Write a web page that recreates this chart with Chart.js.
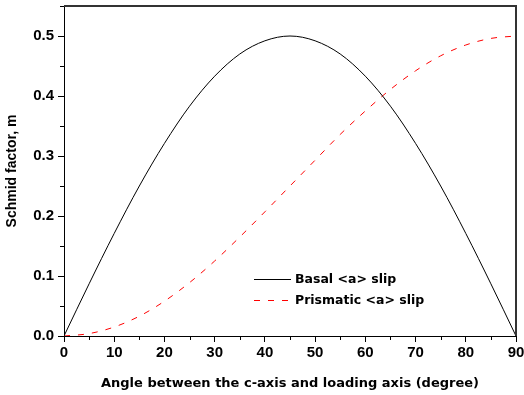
<!DOCTYPE html>
<html>
<head>
<meta charset="utf-8">
<script src="https://cdn.jsdelivr.net/npm/chart.js@4"></script>
<style>
  body { margin: 0; background: #fff; }
  #wrap { width: 524px; height: 395px; }
</style>
</head>
<body>
<div id="wrap"><canvas id="schmid" width="524" height="395"></canvas></div>
<script>
// angulo entre eje c y eje de carga (grados)
const angulos = [0, 5, 10, 15, 20, 25, 30, 35, 40, 45, 50, 55, 60, 65, 70, 75, 80, 85, 90];
// factor de Schmid, deslizamiento basal <a>
const basal = [0, 0.087, 0.171, 0.25, 0.321, 0.383, 0.433, 0.47, 0.492, 0.5, 0.492, 0.47, 0.433, 0.383, 0.321, 0.25, 0.171, 0.087, 0];
// factor de Schmid, deslizamiento prismatico <a>
const prismatico = [0, 0.004, 0.015, 0.033, 0.058, 0.089, 0.125, 0.165, 0.207, 0.25, 0.293, 0.336, 0.375, 0.411, 0.442, 0.467, 0.485, 0.496, 0.5];
const ticksX = [0, 10, 20, 30, 40, 50, 60, 70, 80, 90];
const ticksY = [0.0, 0.1, 0.2, 0.3, 0.4, 0.5];

const fuente = "'Liberation Sans', Arial, sans-serif";
const fuenteAncha = "'DejaVu Sans', Verdana, sans-serif";

// marco superior/derecho, ticks menores y leyenda dentro del grafico
const extras = {
  id: 'extras',
  afterDraw(chart) {
    const ctx = chart.ctx;
    const a = chart.chartArea;
    const sx = chart.scales.x, sy = chart.scales.y;
    ctx.save();
    ctx.strokeStyle = '#333';
    ctx.lineWidth = 2;
    ctx.beginPath();
    ctx.moveTo(a.left, a.top);
    ctx.lineTo(a.right, a.top);
    ctx.lineTo(a.right, a.bottom);
    ctx.stroke();

    ctx.lineWidth = 1;
    ctx.strokeStyle = '#000';
    ctx.beginPath();
    for (let v = 5; v < 90; v += 10) {
      const px = Math.round(sx.getPixelForValue(v)) + 0.5;
      ctx.moveTo(px, a.bottom);
      ctx.lineTo(px, a.bottom + 4);
    }
    for (let v = 0.05; v < 0.55; v += 0.1) {
      const py = Math.round(sy.getPixelForValue(v)) + 0.5;
      ctx.moveTo(a.left, py);
      ctx.lineTo(a.left - 4, py);
    }
    ctx.stroke();

    // leyenda
    const lx = a.left + 190, ly = a.top + 273;
    ctx.font = 'bold 12.5px ' + fuenteAncha;
    ctx.textBaseline = 'middle';
    ctx.fillStyle = '#000';
    chart.data.datasets.forEach((ds, i) => {
      const y = ly + i * 21 + 0.5;
      ctx.strokeStyle = ds.borderColor;
      ctx.setLineDash(ds.borderDash || []);
      ctx.beginPath();
      ctx.moveTo(lx, y);
      ctx.lineTo(lx + 37, y);
      ctx.stroke();
      ctx.setLineDash([]);
      ctx.fillText(ds.label, lx + 41, y);
    });
    ctx.restore();
  }
};

new Chart(document.getElementById('schmid'), {
  type: 'line',
  data: {
    datasets: [
      {
        label: 'Basal <a> slip',
        data: angulos.map((x, i) => ({ x: x, y: basal[i] })),
        borderColor: '#000',
        borderWidth: 1,
        pointRadius: 0,
        cubicInterpolationMode: 'monotone'
      },
      {
        label: 'Prismatic <a> slip',
        data: angulos.map((x, i) => ({ x: x, y: prismatico[i] })),
        borderColor: '#ff0000',
        borderWidth: 1,
        borderDash: [6, 8],
        pointRadius: 0,
        cubicInterpolationMode: 'monotone'
      }
    ]
  },
  options: {
    responsive: false,
    devicePixelRatio: 1,
    animation: false,
    layout: { padding: 0 },
    plugins: { legend: { display: false }, tooltip: { enabled: false } },
    scales: {
      x: {
        type: 'linear',
        min: 0,
        max: 90,
        afterBuildTicks: s => { s.ticks = ticksX.map(v => ({ value: v })); },
        afterFit: s => { s.height = 59; s.paddingRight = 8; },
        border: { color: '#000', width: 1 },
        grid: { drawOnChartArea: false, tickLength: 6, color: '#000' },
        ticks: {
          color: '#000',
          padding: 2,
          font: { family: fuente, size: 15, weight: 'bold' }
        },
        title: {
          display: true,
          text: 'Angle between the c-axis and loading axis (degree)',
          color: '#000',
          padding: { top: 8 },
          font: { family: fuenteAncha, size: 13, weight: 'bold' }
        }
      },
      y: {
        min: 0,
        max: 0.55,
        afterBuildTicks: s => { s.ticks = ticksY.map(v => ({ value: v })); },
        afterFit: s => { s.width = 64; s.paddingTop = 6; },
        border: { color: '#000', width: 1 },
        grid: { drawOnChartArea: false, tickLength: 6, color: '#000' },
        ticks: {
          color: '#000',
          padding: 4,
          font: { family: fuente, size: 15, weight: 'bold' },
          callback: v => v.toFixed(1)
        },
        title: {
          display: true,
          text: 'Schmid factor, m',
          color: '#000',
          padding: { bottom: 2 },
          font: { family: fuente, size: 14, weight: 'bold' }
        }
      }
    }
  },
  plugins: [extras]
});
</script>
</body>
</html>
